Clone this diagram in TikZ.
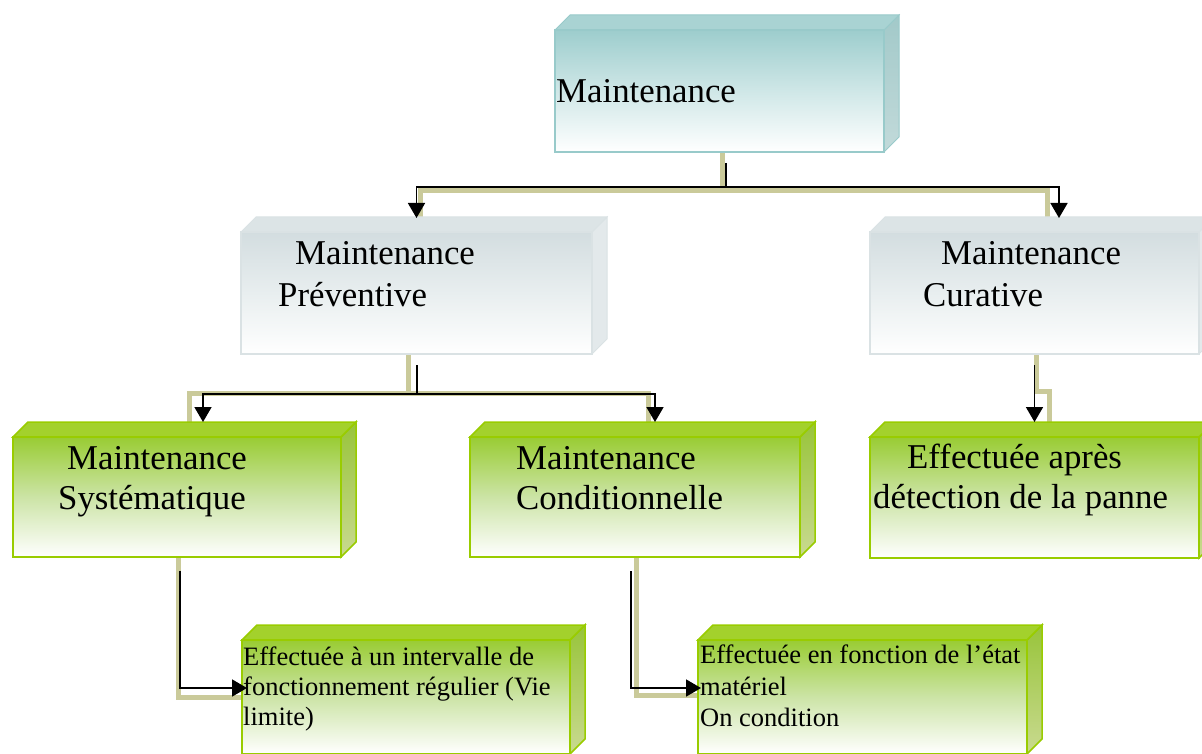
\documentclass[tikz,border=0pt]{standalone}
\usepackage{fontspec}
\setmainfont{Liberation Serif}
\usetikzlibrary{arrows.meta,backgrounds}

% palette
\definecolor{tealtop}{HTML}{9DCDCD}
\definecolor{tealmid}{HTML}{CFE7E7}
\definecolor{tealedge}{HTML}{98CACA}
\definecolor{teallidc}{HTML}{A9D3D3}
\definecolor{tealsidet}{HTML}{A2C9C9}
\definecolor{tealsideb}{HTML}{C2DADA}
\definecolor{graytop}{HTML}{D3DDE0}
\definecolor{graymid}{HTML}{E8EEEF}
\definecolor{grayedge}{HTML}{DAE2E4}
\definecolor{graylidc}{HTML}{DCE4E6}
\definecolor{graysidec}{HTML}{E3E9EB}
\definecolor{greentop}{HTML}{99CC33}
\definecolor{greenmid}{HTML}{CCE4A6}
\definecolor{greenedge}{HTML}{99CC00}
\definecolor{greenlidc}{HTML}{A3D12C}
\definecolor{greensidet}{HTML}{98C43A}
\definecolor{greensideb}{HTML}{C9DA90}
\definecolor{khakic}{HTML}{CACA9A}

\tikzset{
  big/.style={font=\fontsize{34.8}{41}\selectfont, inner sep=0pt, anchor=base west},
  small/.style={font=\fontsize{26.5}{30}\selectfont, inner sep=0pt, anchor=base west},
  khaki/.style={draw=khakic, line width=5pt},
  wire/.style={draw=black, line width=1.7pt},
  arr/.style={wire, -{Triangle[length=15pt,width=17pt]}},
  facebase/.style={inner sep=0pt, outer sep=0pt},
  tealface/.style={facebase, draw=tealedge, line width=1.5pt,
    top color=tealtop, bottom color=white, middle color=tealmid},
  teallid/.style={fill=teallidc, draw=tealedge, line width=1pt},
  tealside/.style={top color=tealsidet, bottom color=tealsideb, draw=tealedge, line width=1pt},
  grayface/.style={facebase, draw=grayedge, line width=1.5pt,
    top color=graytop, bottom color=white, middle color=graymid},
  graylid/.style={fill=graylidc, draw=grayedge, line width=1pt},
  grayside/.style={fill=graysidec, draw=grayedge, line width=1pt},
  greenface/.style={facebase, draw=greenedge, line width=2pt,
    top color=greentop, bottom color=white, middle color=greenmid},
  greenlid/.style={fill=greenlidc, draw=greenedge, line width=1.5pt},
  greenside/.style={top color=greensidet, bottom color=greensideb, draw=greenedge, line width=1.5pt},
}

% 3D slab: name, colour family, x1, y1, x2, y2 of the front face
\newcommand{\slab}[6]{%
  \path[#2side] (#5,#4) -- ++(15,-15) -- ({#5+15},{#6-15}) -- (#5,#6) -- cycle;
  \path[#2lid] (#3,#4) -- ++(15,-15) -- ({#5+15},{#4-15}) -- (#5,#4) -- cycle;
  \node[#2face, anchor=north west, minimum width={#5-#3}, minimum height={#6-#4}] (#1) at (#3,#4) {};
}

\begin{document}
\begin{tikzpicture}[x=1pt,y=-1pt]
\useasboundingbox (0,0) rectangle (1202,754);
\clip (0,0) rectangle (1202,754);

% boxes
\slab{top}{teal}{555}{30}{884}{152}
\slab{prev}{gray}{241}{232}{592}{354}
\slab{cur}{gray}{870}{232}{1199}{354}
\slab{sys}{green}{13}{437}{341}{557}
\slab{cond}{green}{470}{437}{800}{557}
\slab{apres}{green}{870}{437}{1199}{558}
\slab{vie}{green}{242}{640}{570}{754}
\slab{etat}{green}{698}{640}{1027}{754}

% labels
\node[big] (topA) at (556,103) {Maintenance};
\node[big] (prevA) at (295,265) {Maintenance};
\node[big] (prevB) at (278,306) {Préventive};
\node[big] (curA) at (941,265) {Maintenance};
\node[big] (curB) at (923,306) {Curative};
\node[big] (sysA) at (67,469) {Maintenance};
\node[big] (sysB) at (58,509) {Systématique};
\node[big] (condA) at (516,469) {Maintenance};
\node[big] (condB) at (516,509) {Conditionnelle};
\node[big] (apresA) at (907,468) {Effectuée après};
\node[big] (apresB) at (873,508) {détection de la panne};
\node[small] (vieA) at (243,665) {Effectuée à un intervalle de};
\node[small] (vieB) at (243,695) {fonctionnement régulier (Vie};
\node[small] (vieC) at (243,725) {limite)};
\node[small] (etatA) at (700,663) {Effectuée en fonction de l’état};
\node[small] (etatB) at (700,695) {matériel};
\node[small] (etatC) at (700,726) {On condition};

% junction points
\coordinate (kt) at (722,191);
\coordinate (ka) at (420,191);
\coordinate (kb) at (1047,191);
\coordinate (jt) at (726,187);
\coordinate (ja) at (416.5,187);
\coordinate (jb) at (1059,187);
\coordinate (km) at (408,393);
\coordinate (kc) at (189,393);
\coordinate (kd) at (648,393);
\coordinate (jm) at (417,394);
\coordinate (jc) at (203,394);
\coordinate (jd) at (655,394);

% khaki guide lines behind the boxes
\begin{pgfonlayer}{background}
  \draw[khaki] ([xshift=2.5pt]top.south) -- (kt);
  \draw[khaki] ([xshift=3.5pt,yshift=14pt]prev.north) -- (ka) -- (kb) -- ([xshift=12.5pt,yshift=14pt]cur.north);
  \draw[khaki] ([xshift=-8.5pt]prev.south) -- (km);
  \draw[khaki] ([xshift=12pt,yshift=15pt]sys.north) -- (kc) -- (kd) -- ([xshift=13pt,yshift=15pt]cond.north);
  \draw[khaki] ([xshift=1.5pt]cur.south) -- ++(0,37) -- ++(13,0) -- ([xshift=14.5pt,yshift=15pt]apres.north);
  \draw[khaki] ([xshift=1pt]sys.south) |- (vie.west);
  \draw[khaki] ([xshift=1pt]cond.south) |- ([yshift=2pt]etat.west);
\end{pgfonlayer}

% black arrows
\draw[wire] ([xshift=6.5pt,yshift=-11pt]top.south) -- (jt);
\draw[arr] (jb) -- (ja) -- ([yshift=14pt]prev.north);
\draw[arr] (ja) -- (jb) -- ([xshift=24.5pt,yshift=14pt]cur.north);

\draw[wire] ([xshift=0.5pt,yshift=-11pt]prev.south) -- (jm);
\draw[arr] (jd) -- (jc) -- ([xshift=26pt,yshift=15pt]sys.north);
\draw[arr] (jc) -- (jd) -- ([xshift=20pt,yshift=15pt]cond.north);

\draw[arr] ([yshift=-11pt]cur.south) -- ([yshift=15pt]apres.north);

\draw[arr] ([xshift=3pt,yshift=-14pt]sys.south) |- ([xshift=5pt,yshift=9pt]vie.west);
\draw[arr] ([xshift=-4pt,yshift=-14pt]cond.south) |- ([xshift=3pt,yshift=9pt]etat.west);
\end{tikzpicture}
\end{document}
